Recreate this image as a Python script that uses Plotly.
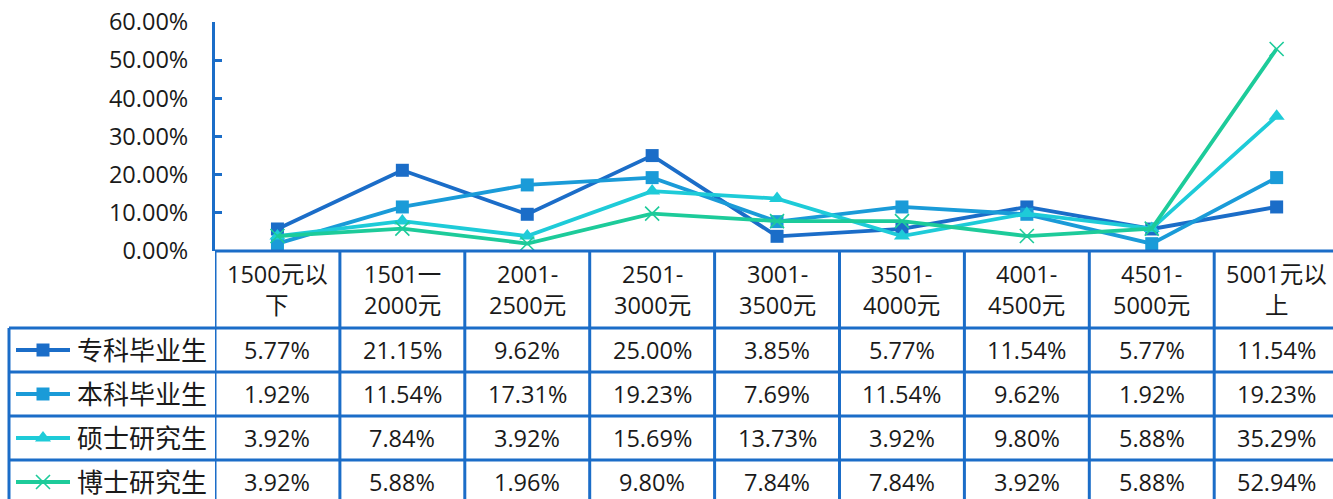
import plotly.graph_objects as go

# salary bands
categories = ["1500元以<br>下", "1501一<br>2000元", "2001-<br>2500元", "2501-<br>3000元",
              "3001-<br>3500元", "3501-<br>4000元", "4001-<br>4500元", "4501-<br>5000元",
              "5001元以<br>上"]

series_names = ["专科毕业生", "本科毕业生", "硕士研究生", "博士研究生"]
zhuanke = [5.77, 21.15, 9.62, 25.00, 3.85, 5.77, 11.54, 5.77, 11.54]
benke = [1.92, 11.54, 17.31, 19.23, 7.69, 11.54, 9.62, 1.92, 19.23]
shuoshi = [3.92, 7.84, 3.92, 15.69, 13.73, 3.92, 9.80, 5.88, 35.29]
boshi = [3.92, 5.88, 1.96, 9.80, 7.84, 7.84, 3.92, 5.88, 52.94]

y_ticks = [0, 10, 20, 30, 40, 50, 60]

W, H = 1333, 499
BORDER = "#1B6DC8"
colors = ["#1B6DC8", "#1A9BD8", "#1ECBD8", "#1DCB9A"]
symbols = ["square", "square", "triangle-up", "x-thin"]
sizes = [13, 13, 14, 14]
all_series = [zhuanke, benke, shuoshi, boshi]

FONT = "Open Sans, Noto Sans CJK SC, sans-serif"
TXT = "#1a1a1a"

# pixel layout of the plot area and the data table below it
PLOT_L, PLOT_T, PLOT_B = 215, 22, 251
COL_W = 124.9
TABLE_L = 9
header_lines_y = [274, 305]
row_edges = [328, 372, 416, 460, 504]

fig = go.Figure()
x_idx = list(range(len(categories)))

for name, vals, c, sym, sz in zip(series_names, all_series, colors, symbols, sizes):
    fig.add_trace(go.Scatter(
        x=x_idx, y=vals, name=name, mode="lines+markers",
        line=dict(color=c, width=3.8),
        marker=dict(symbol=sym, size=sz, color=c,
                    line=dict(color=c, width=1.6 if sym == "x-thin" else 0)),
        xaxis="x", yaxis="y", cliponaxis=False, showlegend=False,
    ))

# legend keys inside the table (pixel-coordinate overlay axes)
for i, (name, c, sym, sz) in enumerate(zip(series_names, colors, symbols, sizes)):
    yc = (row_edges[i] + row_edges[i + 1]) / 2
    fig.add_trace(go.Scatter(
        x=[16, 70], y=[yc, yc], mode="lines", line=dict(color=c, width=3.8),
        xaxis="x2", yaxis="y2", showlegend=False, hoverinfo="skip", cliponaxis=False))
    fig.add_trace(go.Scatter(
        x=[43], y=[yc], mode="markers",
        marker=dict(symbol=sym, size=sz, color=c,
                    line=dict(color=c, width=1.6 if sym == "x-thin" else 0)),
        xaxis="x2", yaxis="y2", showlegend=False, hoverinfo="skip", cliponaxis=False))

shapes = []
# column separators (category boundaries)
for k in range(len(categories) + 1):
    shapes.append(dict(type="line", xref="x", yref="y2", x0=k - 0.5, x1=k - 0.5,
                       y0=PLOT_B, y1=H + 5, line=dict(color=BORDER, width=3)))
# header top edge / x axis
shapes.append(dict(type="line", xref="x2", yref="y2", x0=PLOT_L, x1=W + 5,
                   y0=PLOT_B, y1=PLOT_B, line=dict(color=BORDER, width=3)))
# row separators
for yv in row_edges[:-1]:
    shapes.append(dict(type="line", xref="x2", yref="y2", x0=TABLE_L, x1=W + 5,
                       y0=yv, y1=yv, line=dict(color=BORDER, width=3)))
# left edge of legend column
shapes.append(dict(type="line", xref="x2", yref="y2", x0=TABLE_L, x1=TABLE_L,
                   y0=row_edges[0], y1=H + 5, line=dict(color=BORDER, width=3)))

annotations = []
# category header text
for i, cat in enumerate(categories):
    for j, part in enumerate(cat.split("<br>")):
        annotations.append(dict(x=i, y=header_lines_y[j], xref="x", yref="y2",
                                text=part, showarrow=False,
                                font=dict(family=FONT, size=23.5, color=TXT)))
# series labels and values
for r, (name, vals) in enumerate(zip(series_names, all_series)):
    yc = (row_edges[r] + row_edges[r + 1]) / 2
    annotations.append(dict(x=75, y=yc, xref="x2", yref="y2", text=name,
                            xanchor="left", showarrow=False,
                            font=dict(family=FONT, size=26, color=TXT)))
    for i, v in enumerate(vals):
        annotations.append(dict(x=i, y=yc, xref="x", yref="y2", text=f"{v:.2f}%",
                                showarrow=False,
                                font=dict(family=FONT, size=23.5, color=TXT)))

fig.update_layout(
    width=W, height=H, autosize=False,
    margin=dict(l=0, r=0, t=0, b=0, pad=0, autoexpand=False),
    paper_bgcolor="white", plot_bgcolor="rgba(0,0,0,0)",
    xaxis=dict(domain=[PLOT_L / W, 1], range=[-0.5, -0.5 + (W - PLOT_L) / COL_W],
               visible=False, anchor="y", automargin=False),
    yaxis=dict(domain=[(H - PLOT_B) / H, (H - PLOT_T) / H], range=[0, 60],
               tickvals=y_ticks, ticktext=[f"{t:.2f}%" for t in y_ticks],
               ticks="inside", ticklen=7, tickwidth=3, tickcolor=BORDER,
               showline=True, linecolor=BORDER, linewidth=3, showgrid=False,
               zeroline=False, ticklabelstandoff=19, anchor="x", automargin=False,
               tickfont=dict(family=FONT, size=23.5, color=TXT)),
    xaxis2=dict(domain=[0, 1], range=[0, W], visible=False, anchor="y2", automargin=False),
    yaxis2=dict(domain=[0, 1], range=[H, 0], visible=False, anchor="x2", automargin=False),
    shapes=shapes, annotations=annotations,
)

fig.write_html("out.html")
